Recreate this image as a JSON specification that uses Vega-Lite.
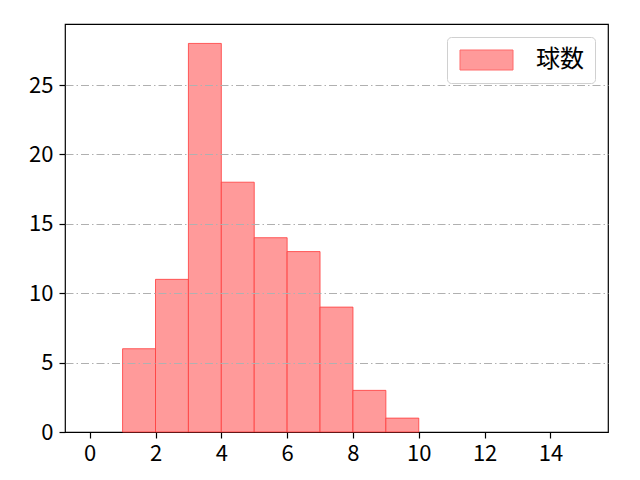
{
  "$schema": "https://vega.github.io/schema/vega-lite/v6.json",
  "width": 543,
  "height": 408,
  "autosize": "none",
  "padding": {"left": 65, "top": 24, "right": 32, "bottom": 48},
  "background": "white",
  "config": {
    "font": "Noto Sans CJK JP",
    "view": {"stroke": "black", "strokeWidth": 1.2},
    "axis": {
      "domain": false,
      "labelFontSize": 22,
      "labelColor": "black",
      "labelFont": "Noto Sans CJK JP",
      "tickColor": "black",
      "tickSize": 6,
      "tickWidth": 1.2,
      "labelPadding": 5,
      "title": null
    }
  },
  "data": {
    "values": [
      {"bin_start": 1, "bin_end": 2, "count": 6},
      {"bin_start": 2, "bin_end": 3, "count": 11},
      {"bin_start": 3, "bin_end": 4, "count": 28},
      {"bin_start": 4, "bin_end": 5, "count": 18},
      {"bin_start": 5, "bin_end": 6, "count": 14},
      {"bin_start": 6, "bin_end": 7, "count": 13},
      {"bin_start": 7, "bin_end": 8, "count": 9},
      {"bin_start": 8, "bin_end": 9, "count": 3},
      {"bin_start": 9, "bin_end": 10, "count": 1}
    ]
  },
  "mark": {"type": "bar", "stroke": "#ff3b3b", "strokeWidth": 1, "strokeOpacity": 0.8},
  "encoding": {
    "x": {
      "field": "bin_start",
      "type": "quantitative",
      "scale": {"domain": [-0.75, 15.75], "nice": false, "zero": false},
      "axis": {"values": [0, 2, 4, 6, 8, 10, 12, 14], "grid": false}
    },
    "x2": {"field": "bin_end"},
    "y": {
      "field": "count",
      "type": "quantitative",
      "scale": {"domain": [0, 29.4], "nice": false},
      "axis": {
        "values": [0, 5, 10, 15, 20, 25],
        "grid": true,
        "gridColor": "#b0b0b0",
        "gridWidth": 1,
        "gridDash": [8, 3, 1.5, 3],
        "gridOpacity": {"condition": {"test": "datum.value === 0", "value": 0}, "value": 1},
        "labelPadding": 6,
        "zindex": 1
      }
    },
    "y2": {"datum": 0},
    "color": {
      "datum": "球数",
      "type": "nominal",
      "scale": {"range": ["#ff9a9a"]},
      "legend": {
        "title": null,
        "orient": "none",
        "legendX": 382,
        "legendY": 13,
        "symbolType": "M-1,-1H4.3V1H-1Z",
        "symbolSize": 400,
        "symbolStrokeColor": "#ff6b6b",
        "symbolStrokeWidth": 1,
        "symbolOpacity": 1,
        "labelFontSize": 24,
        "labelFont": "Noto Sans CJK JP",
        "labelColor": "black",
        "labelOffset": 54,
        "padding": 11,
        "strokeColor": "#d0d0d0",
        "fillColor": "white",
        "cornerRadius": 4
      }
    }
  }
}
